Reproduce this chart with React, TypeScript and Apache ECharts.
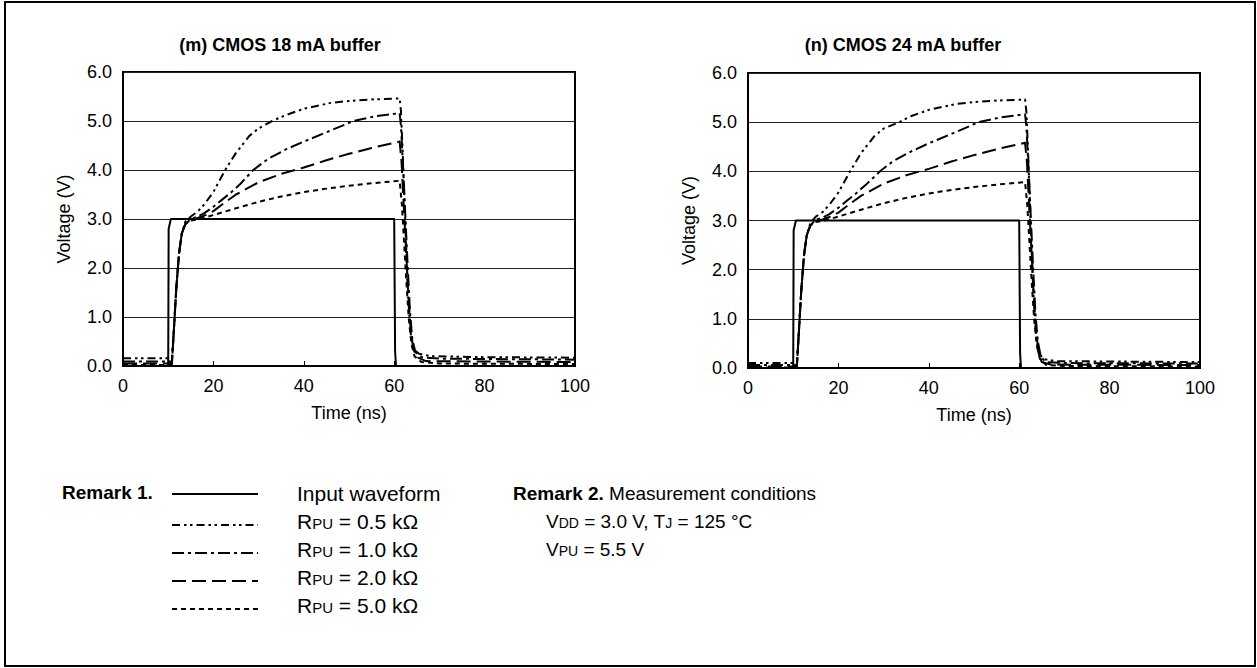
import React, { useEffect, useRef } from "react";
import * as echarts from "echarts";

const FONT = "'Liberation Sans', Arial, Helvetica, sans-serif";

// Axis settings / tick labels
const X_MIN = 0;
const X_MAX = 100;
const X_STEP = 20;
const Y_MIN = 0;
const Y_MAX = 6;
const Y_STEP = 1;

const chartTitles = ["(m) CMOS 18 mA buffer", "(n) CMOS 24 mA buffer"];
const xAxisName = "Time (ns)";
const yAxisName = "Voltage (V)";

// (m) CMOS 18 mA buffer
const inputM = [[0, 0], [10, 0], [10.1, 2.8], [10.6, 3.0], [60, 3.0], [60.2, 0.3], [60.4, 0], [100, 0]];
const rpu05M = [[0, 0.16], [10.4, 0.16], [10.8, 0.1], [11.3, 0.8], [11.8, 1.6], [12.4, 2.3], [13, 2.7], [13.8, 2.95], [15, 3.05], [16.5, 3.15], [18, 3.3], [20, 3.55], [22.6, 4.0], [25, 4.35], [28, 4.7], [30, 4.85], [33, 5.0], [36, 5.12], [40, 5.25], [46, 5.37], [50, 5.41], [55, 5.44], [61.2, 5.46], [61.5, 5.2], [61.9, 4.3], [62.3, 3.3], [62.7, 2.3], [63.1, 1.4], [63.6, 0.7], [64.2, 0.35], [65.5, 0.25], [68, 0.2], [80, 0.18], [100, 0.17]];
const rpu10M = [[0, 0.09], [10.4, 0.09], [10.8, 0.05], [11.3, 0.8], [11.8, 1.6], [12.4, 2.3], [13, 2.7], [13.8, 2.9], [15, 3.0], [16.5, 3.05], [18, 3.12], [20, 3.25], [22, 3.4], [24, 3.55], [26, 3.72], [28.8, 4.0], [32, 4.22], [36, 4.42], [40, 4.58], [45, 4.77], [51, 5.0], [56, 5.1], [61.2, 5.16], [61.5, 4.9], [62, 4.0], [62.5, 3.0], [63, 2.0], [63.5, 1.1], [64, 0.55], [64.7, 0.28], [66, 0.18], [70, 0.15], [100, 0.13]];
const rpu20M = [[0, 0.05], [10.4, 0.05], [10.8, 0.03], [11.3, 0.8], [11.8, 1.6], [12.4, 2.3], [13, 2.7], [13.8, 2.9], [15, 2.98], [16.5, 3.02], [18, 3.07], [20, 3.16], [22, 3.3], [25, 3.5], [30, 3.75], [35, 3.92], [40, 4.05], [45, 4.2], [50, 4.33], [55, 4.45], [61.2, 4.58], [61.6, 4.2], [62.1, 3.3], [62.6, 2.4], [63.1, 1.5], [63.6, 0.8], [64.2, 0.35], [65, 0.18], [67, 0.1], [100, 0.08]];
const rpu50M = [[0, 0.02], [10.4, 0.02], [10.8, 0.01], [11.3, 0.8], [11.8, 1.6], [12.4, 2.3], [13, 2.7], [13.8, 2.9], [15, 2.97], [17, 3.0], [20, 3.08], [25, 3.22], [30, 3.35], [35, 3.46], [40, 3.55], [45, 3.62], [50, 3.68], [55, 3.73], [61.2, 3.78], [61.7, 3.3], [62.2, 2.5], [62.7, 1.7], [63.2, 1.0], [63.8, 0.45], [64.5, 0.2], [66, 0.08], [70, 0.05], [100, 0.04]];

// (n) CMOS 24 mA buffer
const inputN = [[0, 0], [10, 0], [10.1, 2.8], [10.6, 3.0], [60, 3.0], [60.2, 0.3], [60.4, 0], [100, 0]];
const rpu05N = [[0, 0.1], [10.4, 0.1], [10.8, 0.06], [11.3, 0.8], [11.8, 1.6], [12.4, 2.3], [13, 2.7], [13.8, 2.95], [15, 3.08], [16.5, 3.17], [18, 3.32], [20, 3.57], [22.6, 4.0], [25, 4.37], [28, 4.72], [30, 4.87], [33.5, 5.0], [36, 5.12], [40, 5.25], [46, 5.37], [50, 5.41], [55, 5.44], [61.3, 5.46], [61.6, 5.2], [62, 4.3], [62.4, 3.3], [62.8, 2.3], [63.2, 1.4], [63.7, 0.7], [64.3, 0.3], [65.5, 0.18], [68, 0.14], [100, 0.12]];
const rpu10N = [[0, 0.06], [10.4, 0.06], [10.8, 0.04], [11.3, 0.8], [11.8, 1.6], [12.4, 2.3], [13, 2.7], [13.8, 2.9], [15, 3.02], [16.5, 3.06], [18, 3.13], [20, 3.26], [22, 3.41], [24, 3.56], [26, 3.72], [29.2, 4.0], [32, 4.2], [36, 4.4], [40, 4.57], [45, 4.76], [51, 5.0], [56, 5.1], [61.3, 5.16], [61.6, 4.9], [62.1, 4.0], [62.6, 3.0], [63.1, 2.0], [63.6, 1.1], [64.1, 0.55], [64.8, 0.22], [66, 0.12], [70, 0.1], [100, 0.09]];
const rpu20N = [[0, 0.03], [10.4, 0.03], [10.8, 0.02], [11.3, 0.8], [11.8, 1.6], [12.4, 2.3], [13, 2.7], [13.8, 2.9], [15, 2.99], [16.5, 3.02], [18, 3.07], [20, 3.16], [22, 3.3], [25, 3.5], [30, 3.75], [35, 3.92], [40, 4.05], [45, 4.2], [50, 4.33], [55, 4.45], [61.3, 4.58], [61.7, 4.2], [62.2, 3.3], [62.7, 2.4], [63.2, 1.5], [63.7, 0.8], [64.3, 0.3], [65, 0.12], [67, 0.07], [100, 0.06]];
const rpu50N = [[0, 0.01], [10.4, 0.01], [10.8, 0.01], [11.3, 0.8], [11.8, 1.6], [12.4, 2.3], [13, 2.7], [13.8, 2.9], [15, 2.97], [17, 3.0], [20, 3.08], [25, 3.22], [30, 3.35], [35, 3.46], [40, 3.55], [45, 3.62], [50, 3.68], [55, 3.73], [61.3, 3.78], [61.8, 3.3], [62.3, 2.5], [62.8, 1.7], [63.3, 1.0], [63.9, 0.45], [64.6, 0.18], [66, 0.06], [70, 0.04], [100, 0.03]];

// Legend
const seriesNames = ["Input waveform", "RPU = 0.5 kΩ", "RPU = 1.0 kΩ", "RPU = 2.0 kΩ", "RPU = 5.0 kΩ"];
const rpuValues = ["0.5", "1.0", "2.0", "5.0"];
const remark1Title = "Remark 1.";
const remark2Title = "Remark 2.";
const remark2Text = "Measurement conditions";

const dashStyles: (number[] | "solid")[] = ["solid", [8, 4, 2.5, 3.5, 2.5, 4], [12, 4, 3, 4], [14, 6], [5, 4]];

export default function App() {
  const ref = useRef<HTMLDivElement>(null);

  useEffect(() => {
    if (!ref.current) return;
    const chart = echarts.init(ref.current, null, { renderer: "svg" });

    const grids = [
      { left: 123, top: 72, width: 452, height: 294 },
      { left: 748, top: 73, width: 452, height: 295 },
    ];

    const axisLabelStyle = { color: "#000", fontFamily: FONT, fontSize: 18 };

    const xAxes = grids.map((_, i) => ({
      type: "value",
      gridIndex: i,
      min: X_MIN,
      max: X_MAX,
      interval: X_STEP,
      name: xAxisName,
      nameLocation: "middle",
      nameGap: 38,
      nameTextStyle: { color: "#000", fontFamily: FONT, fontSize: 18 },
      axisLine: { show: true, lineStyle: { color: "#000", width: 2 } },
      axisTick: { show: true, inside: true, length: 5, lineStyle: { color: "#000", width: 1 } },
      axisLabel: { ...axisLabelStyle, margin: 11 },
      splitLine: { show: false },
    }));

    const yAxes = grids.map((_, i) => ({
      type: "value",
      gridIndex: i,
      min: Y_MIN,
      max: Y_MAX,
      interval: Y_STEP,
      name: yAxisName,
      nameLocation: "middle",
      nameGap: 50,
      nameRotate: 90,
      nameTextStyle: { color: "#000", fontFamily: FONT, fontSize: 18 },
      axisLine: { show: true, lineStyle: { color: "#000", width: 2 } },
      axisTick: { show: false },
      axisLabel: { ...axisLabelStyle, margin: 11, formatter: (v: number) => v.toFixed(1) },
      splitLine: { show: true, lineStyle: { color: "#222", width: 1 } },
    }));

    const dataSets = [
      [inputM, rpu05M, rpu10M, rpu20M, rpu50M],
      [inputN, rpu05N, rpu10N, rpu20N, rpu50N],
    ];

    const series: any[] = [];
    dataSets.forEach((set, gi) => {
      set.forEach((d, si) => {
        series.push({
          type: "line",
          name: seriesNames[si],
          xAxisIndex: gi,
          yAxisIndex: gi,
          data: d,
          showSymbol: false,
          symbol: "none",
          silent: true,
          z: si === 0 ? 2 : 3,
          lineStyle: {
            color: "#000",
            width: 2,
            type: dashStyles[si],
            cap: "butt",
            join: "round",
          },
        });
      });
    });

    const legendX1 = 172;
    const legendX2 = 258;
    const textX = 297;
    const rowY = [492, 520, 548, 576, 604];
    const descSize = 21;
    const subSize = 15;

    const graphics: any[] = [
      {
        type: "rect",
        shape: { x: 5, y: 2, width: 1250, height: 664 },
        style: { fill: "none", stroke: "#000", lineWidth: 2 },
        silent: true,
      },
      {
        type: "text",
        x: 62,
        y: rowY[0],
        style: { text: remark1Title, font: `bold 19px ${FONT}`, fill: "#000", verticalAlign: "middle" },
      },
    ];

    const richBase = (size: number, sub: number) => ({
      a: { fontFamily: FONT, fontSize: size, color: "#000", verticalAlign: "bottom", lineHeight: size + 2 },
      s: { fontFamily: FONT, fontSize: sub, color: "#000", verticalAlign: "bottom", lineHeight: size + 2, padding: [0, 0, 1, 0] },
      b: { fontFamily: FONT, fontSize: size, fontWeight: "bold", color: "#000", verticalAlign: "bottom", lineHeight: size + 2 },
    });

    rowY.forEach((y, i) => {
      const ly = i === 0 ? y + 2 : y + 5;
      graphics.push({
        type: "line",
        shape: { x1: legendX1, y1: ly, x2: legendX2, y2: ly },
        style: {
          stroke: "#000",
          lineWidth: 2,
          lineDash: dashStyles[i] === "solid" ? null : dashStyles[i],
        },
      });
      graphics.push({
        type: "text",
        x: textX,
        y: y,
        style: {
          text: i === 0 ? `{a|${seriesNames[0]}}` : `{a|R}{s|PU}{a| = ${rpuValues[i - 1]} kΩ}`,
          verticalAlign: "middle",
          rich: richBase(descSize, subSize),
        },
      });
    });

    // Remark 2
    graphics.push({
      type: "text",
      x: 513,
      y: rowY[0],
      style: {
        text: `{b|${remark2Title}}{a| ${remark2Text}}`,
        verticalAlign: "middle",
        rich: richBase(19, 14),
      },
    });
    graphics.push({
      type: "text",
      x: 546,
      y: rowY[1],
      style: {
        text: `{a|V}{s|DD}{a| = 3.0 V, T}{s|J}{a| = 125 °C}`,
        verticalAlign: "middle",
        rich: richBase(19, 14),
      },
    });
    graphics.push({
      type: "text",
      x: 546,
      y: rowY[2],
      style: {
        text: `{a|V}{s|PU}{a| = 5.5 V}`,
        verticalAlign: "middle",
        rich: richBase(19, 14),
      },
    });

    chart.setOption({
      animation: false,
      backgroundColor: "#fff",
      title: [
        {
          text: chartTitles[0],
          left: 275,
          top: 31,
          textAlign: "center",
          textStyle: { fontFamily: FONT, fontSize: 18, fontWeight: "bold", color: "#000" },
        },
        {
          text: chartTitles[1],
          left: 898,
          top: 31,
          textAlign: "center",
          textStyle: { fontFamily: FONT, fontSize: 18, fontWeight: "bold", color: "#000" },
        },
      ],
      grid: grids.map((g) => ({ ...g, show: true, borderColor: "#000", borderWidth: 2, backgroundColor: "transparent" })),
      xAxis: xAxes,
      yAxis: yAxes,
      series,
      graphic: graphics,
    });

    return () => chart.dispose();
  }, []);

  return (
    <div
      ref={ref}
      style={{ position: "fixed", left: 0, top: 0, width: 1257, height: 668, background: "#fff" }}
    />
  );
}
